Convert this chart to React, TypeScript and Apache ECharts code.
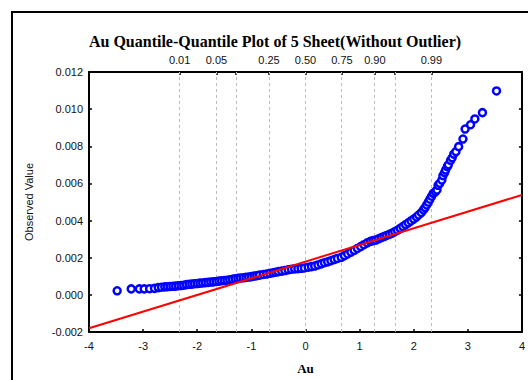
import React, { useEffect, useRef } from "react";
import * as echarts from "echarts";

const titleText = "Au Quantile-Quantile Plot of 5 Sheet(Without Outlier)";

const qqX = [
  -3.48, -3.22, -3.07, -2.98, -2.88, -2.79, -2.72, -2.66, -2.6, -2.55, -2.5, -2.45, -2.4, -2.35, -2.3,
  -2.25, -2.2, -2.15, -2.1, -2.05, -2.0, -1.95, -1.9, -1.85, -1.8, -1.75, -1.7, -1.65, -1.6, -1.55,
  -1.5, -1.45, -1.4, -1.35, -1.3, -1.25, -1.2, -1.15, -1.1, -1.05, -1.0, -0.95, -0.9, -0.85, -0.78,
  -0.72, -0.66, -0.6, -0.55, -0.5, -0.44, -0.38, -0.32, -0.26, -0.2, -0.14, -0.08, -0.02, 0.05, 0.11,
  0.17, 0.23, 0.29, 0.35, 0.41, 0.47, 0.53, 0.59, 0.66, 0.72, 0.78, 0.84, 0.9, 0.96, 1.02,
  1.08, 1.14, 1.2, 1.25, 1.3, 1.35, 1.4, 1.45, 1.5, 1.55, 1.6, 1.65, 1.7, 1.75, 1.8,
  1.85, 1.9, 1.95, 2.0, 2.05, 2.09, 2.14, 2.18, 2.21, 2.24, 2.27, 2.3, 2.33, 2.36, 2.4,
  2.43, 2.45, 2.48, 2.52, 2.54, 2.57, 2.59, 2.62, 2.64, 2.68, 2.71, 2.74, 2.78, 2.83, 2.91,
  2.95, 3.05, 3.13, 3.27, 3.53,
];
const qqY = [
  0.00022, 0.00032, 0.00032, 0.00032, 0.00033, 0.00035, 0.00039, 0.00041, 0.00043, 0.00044, 0.00045, 0.00046, 0.00047, 0.00049, 0.0005,
  0.00052, 0.00055, 0.00057, 0.00058, 0.0006, 0.00061, 0.00063, 0.00064, 0.00066, 0.00067, 0.00069, 0.0007, 0.00072, 0.00074, 0.00076,
  0.00077, 0.00079, 0.00081, 0.00084, 0.00087, 0.00089, 0.00091, 0.00092, 0.00094, 0.00096, 0.00098, 0.00101, 0.00103, 0.00106, 0.0011,
  0.00112, 0.00116, 0.00119, 0.00122, 0.00125, 0.00128, 0.00131, 0.00135, 0.00138, 0.0014, 0.00141, 0.00143, 0.00145, 0.00149, 0.00152,
  0.00155, 0.00161, 0.00167, 0.00173, 0.00178, 0.00184, 0.0019, 0.00196, 0.00202, 0.00211, 0.0022, 0.0023, 0.0024, 0.0025, 0.0026,
  0.0027, 0.0028, 0.00288, 0.00292, 0.00295, 0.00302, 0.00308, 0.00314, 0.0032, 0.00326, 0.00332, 0.0034, 0.00348, 0.00358, 0.00368,
  0.00378, 0.00388, 0.00398, 0.00408, 0.00419, 0.0043, 0.00443, 0.00457, 0.0047, 0.00484, 0.00499, 0.00515, 0.00531, 0.00547, 0.00555,
  0.00565, 0.0059, 0.00601, 0.00618, 0.00642, 0.00658, 0.00672, 0.0069, 0.007, 0.00724, 0.00738, 0.00758, 0.00771, 0.00798, 0.00839,
  0.00893, 0.00916, 0.00947, 0.00981, 0.01098,
];

// reference (fitted) line end points
const fitX = [-4, 4];
const fitY = [-0.0018, 0.00538];

// probability axis (top)
const probLabels = ["0.01", "0.05", "0.10", "0.25", "0.50", "0.75", "0.90", "0.95", "0.99"];
const probZ = [-2.326, -1.645, -1.282, -0.674, 0, 0.674, 1.282, 1.645, 2.326];
const shownProbLabels = ["0.01", "0.05", "0.25", "0.50", "0.75", "0.90", "0.99"];

const xTicks = { min: -4, max: 4, interval: 1 };
const yTicks = { min: -0.002, max: 0.012, interval: 0.002 };

const SANS = "'Liberation Sans', Arial, sans-serif";
const SERIF = "'Liberation Serif', 'Times New Roman', serif";

export default function App() {
  const ref = useRef<HTMLDivElement>(null);
  useEffect(() => {
    if (!ref.current) return;
    const chart = echarts.init(ref.current, undefined, { renderer: "svg" });
    const points = qqX.map((x, i) => [x, qqY[i]]);
    const fit = fitX.map((x, i) => [x, fitY[i]]);
    const shownZ = shownProbLabels.map((p) => probZ[probLabels.indexOf(p)]);
    const labelFor = (v: number) => {
      let best = 0;
      for (let i = 0; i < probZ.length; i++) {
        if (Math.abs(probZ[i] - v) < Math.abs(probZ[best] - v)) best = i;
      }
      return probLabels[best];
    };
    const axisLine = { show: true, onZero: false, lineStyle: { color: "#000", width: 2 } };
    const tick = { show: true, inside: true, length: 3, lineStyle: { color: "#000", width: 1.5 } };
    const label = { color: "#111", fontFamily: SANS, fontSize: 11 };
    chart.setOption({
      animation: false,
      backgroundColor: "#fff",
      title: {
        text: titleText,
        left: 270,
        textAlign: "center",
        top: 28,
        textStyle: { fontFamily: SERIF, fontWeight: "bold", fontSize: 16, color: "#000" },
      },
      grid: { left: 89, right: 2, top: 72, bottom: 48 },
      graphic: [
        {
          type: "rect",
          shape: { x: 12, y: 12, width: 600, height: 500 },
          style: { fill: "none", stroke: "#000", lineWidth: 2 },
          silent: true,
          z: 100,
        },
      ],
      xAxis: [
        {
          type: "value",
          position: "bottom",
          ...xTicks,
          axisLine,
          axisTick: tick,
          splitLine: { show: false },
          axisLabel: { ...label, margin: 8 },
          name: "Au",
          nameLocation: "middle",
          nameGap: 30,
          nameTextStyle: { fontFamily: SERIF, fontWeight: "bold", fontSize: 13, color: "#000" },
        },
        {
          type: "value",
          position: "top",
          ...xTicks,
          axisLine,
          axisTick: { ...tick, customValues: probZ },
          splitLine: { show: false },
          axisLabel: { ...label, margin: 7, customValues: shownZ, formatter: (v: number) => labelFor(v) },
        },
      ],
      yAxis: [
        {
          type: "value",
          position: "left",
          ...yTicks,
          axisLine,
          axisTick: tick,
          splitLine: { show: false },
          axisLabel: { ...label, margin: 6, formatter: (v: number) => v.toFixed(3) },
          name: "Observed Value",
          nameLocation: "middle",
          nameGap: 55,
          nameTextStyle: { fontFamily: SANS, fontSize: 11, color: "#111" },
        },
        {
          type: "value",
          position: "right",
          ...yTicks,
          axisLine,
          axisTick: tick,
          splitLine: { show: false },
          axisLabel: { show: false },
        },
      ],
      series: [
        {
          type: "scatter",
          xAxisIndex: 0,
          yAxisIndex: 0,
          data: points,
          symbol: "circle",
          symbolSize: 7,
          itemStyle: { color: "#fff", borderColor: "#0000ff", borderWidth: 2.5, opacity: 1 },
          z: 3,
          markLine: {
            silent: true,
            symbol: "none",
            label: { show: false },
            lineStyle: { color: "#bbb", type: [3, 3], width: 1 },
            data: probZ.map((z) => ({ xAxis: z })),
            z: 1,
          },
        },
        {
          type: "line",
          xAxisIndex: 0,
          yAxisIndex: 0,
          data: fit,
          symbol: "none",
          lineStyle: { color: "#ff0000", width: 2 },
          z: 4,
        },
      ],
    });
    return () => chart.dispose();
  }, []);
  return (
    <div
      ref={ref}
      style={{ position: "fixed", left: 0, top: 0, width: 528, height: 380, background: "#fff" }}
    />
  );
}
